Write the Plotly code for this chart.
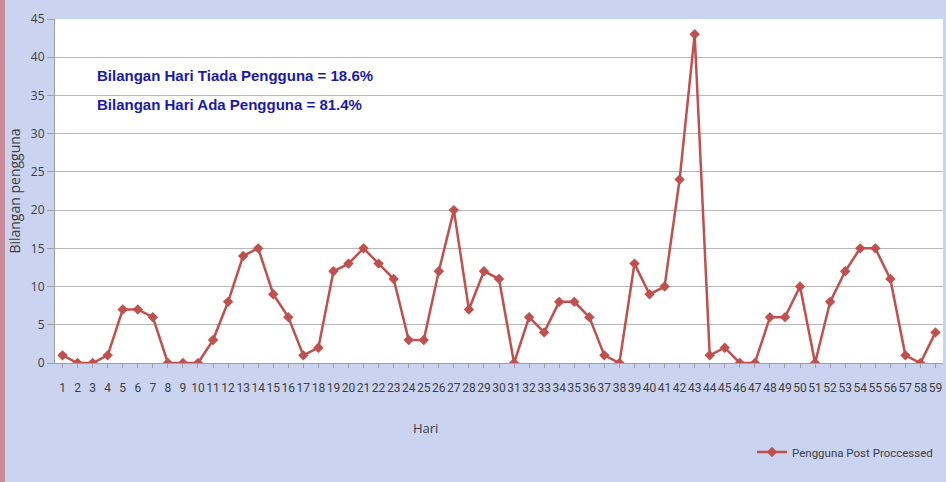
import plotly.graph_objects as go

hari = list(range(1, 60))
pengguna = [1, 0, 0, 1, 7, 7, 6, 0, 0, 0,
            3, 8, 14, 15, 9, 6, 1, 2, 12, 13,
            15, 13, 11, 3, 3, 12, 20, 7, 12, 11,
            0, 6, 4, 8, 8, 6, 1, 0, 13, 9,
            10, 24, 43, 1, 2, 0, 0, 6, 6, 10,
            0, 8, 12, 15, 15, 11, 1, 0, 4]
series_name = "Pengguna Post Proccessed"
note_lines = ["Bilangan Hari Tiada Pengguna = 18.6%",
              "Bilangan Hari Ada Pengguna = 81.4%"]
y_ticks = [0, 5, 10, 15, 20, 25, 30, 35, 40, 45]

narrow = "Roboto, sans-serif"
tick_font = dict(family=narrow, size=12, color="#404040")

fig = go.Figure()
fig.add_trace(go.Scatter(
    x=hari, y=pengguna, mode="lines+markers", name=series_name,
    line=dict(color="#c0504d", width=2.5),
    marker=dict(symbol="diamond", size=8, color="#c0504d"),
))

L, R, T, B = 55, 3, 19, 119
pw = 946 - L - R
ph = 482 - T - B

fig.update_layout(
    width=946, height=482,
    paper_bgcolor="#cad3ef",
    plot_bgcolor="#ffffff",
    margin=dict(l=L, r=R, t=T, b=B, autoexpand=False),
    showlegend=True,
    legend=dict(x=(752 - L) / pw, y=1 - (452 - T) / ph, xanchor="left", yanchor="middle",
                bgcolor="rgba(0,0,0,0)", itemwidth=30,
                font=dict(family=narrow, size=11.5, color="#404040")),
    xaxis=dict(
        range=[0.5, 59.5], tickmode="array", tickvals=hari,
        ticktext=[str(h) for h in hari],
        showgrid=False, zeroline=False,
        showline=True, linecolor="#a0a0a0", linewidth=1,
        ticks="outside", ticklen=4, tickcolor="#a0a0a0",
        ticklabelstandoff=10,
        tickfont=tick_font, tickangle=0,
        automargin=False,
        fixedrange=True,
    ),
    yaxis=dict(
        range=[0, 45], tickvals=y_ticks,
        showgrid=True, gridcolor="#b8b8b8", gridwidth=1,
        zeroline=False, showline=True, linecolor="#a0a0a0", linewidth=1,
        ticks="outside", ticklen=7, tickcolor="#a0a0a0",
        tickfont=dict(family="Open Sans, sans-serif", size=12, color="#404040"),
        title=dict(text="Bilangan pengguna", standoff=6,
                   font=dict(family="Open Sans, sans-serif", size=14, color="#404040")),
        automargin=False,
        fixedrange=True,
    ),
)

def px2paper(px, py):
    return (px - L) / pw, 1 - (py - T) / ph

ann = [
    (95, 75, "<b>%s</b>" % note_lines[0], "left",
     dict(family="Liberation Sans, Arial, sans-serif", size=15, color="#1a1aa8")),
    (95, 104, "<b>%s</b>" % note_lines[1], "left",
     dict(family="Liberation Sans, Arial, sans-serif", size=15, color="#1a1aa8")),
    (425, 428, "Hari", "center",
     dict(family="Open Sans, sans-serif", size=13, color="#404040")),
]
for px, py, text, xa, font in ann:
    ax, ay = px2paper(px, py)
    fig.add_annotation(x=ax, y=ay, xref="paper", yref="paper", text=text,
                       showarrow=False, xanchor=xa, yanchor="middle", font=font)

fig.add_shape(type="rect", xref="paper", yref="paper",
              x0=-L / pw, x1=(5 - L) / pw, y0=-B / ph, y1=1 + T / ph,
              fillcolor="#c98a9a", line=dict(width=0), layer="below")

fig.write_html("out.html", config={"displayModeBar": False},
               post_script="document.body.style.margin='0';")
